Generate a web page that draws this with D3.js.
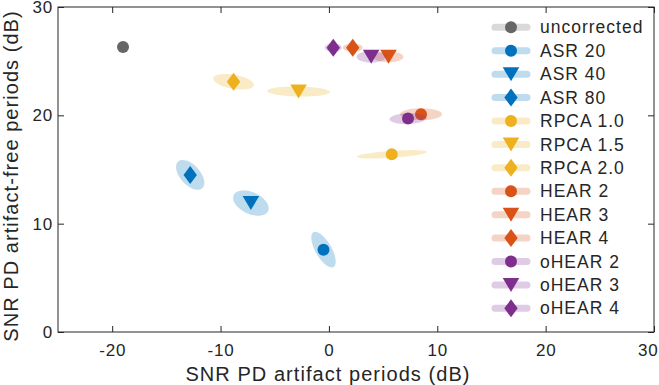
<!DOCTYPE html>
<html>
<head>
<meta charset="utf-8">
<script src="https://cdn.jsdelivr.net/npm/d3@7"></script>
<style>
  body { margin: 0; background: #fff; }
  text { font-family: "Liberation Sans", Arial, Helvetica, sans-serif; fill: #262626; }
  .axis path, .axis line { stroke: #262626; }
  .axis text { font-size: 17px; letter-spacing: 0.8px; }
</style>
</head>
<body>
<script>
// series, in legend order
var names   = ["uncorrected", "ASR 20", "ASR 40", "ASR 80", "RPCA 1.0", "RPCA 1.5", "RPCA 2.0",
               "HEAR 2", "HEAR 3", "HEAR 4", "oHEAR 2", "oHEAR 3", "oHEAR 4"];
var groups  = ["none", "ASR", "ASR", "ASR", "RPCA", "RPCA", "RPCA",
               "HEAR", "HEAR", "HEAR", "oHEAR", "oHEAR", "oHEAR"];
var shapes  = ["circle", "circle", "tri", "diamond", "circle", "tri", "diamond",
               "circle", "tri", "diamond", "circle", "tri", "diamond"];
// mean SNR (dB) in artifact periods and artifact-free periods
var snrArt  = [-19.0, -0.5, -7.2, -12.8, 5.8, -2.8, -8.8, 8.5, 5.5, 2.2, 7.3, 3.9, 0.4];
var snrFree = [26.3, 7.6, 11.9, 14.5, 16.4, 22.2, 23.1, 20.1, 25.4, 26.25, 19.7, 25.4, 26.25];
// spread ellipse: semi axes (dB) and tilt (deg)
var ellA    = [0, 1.85, 1.75, 1.66, 3.23, 2.9, 1.9, 1.94, 1.38, 0.92, 1.7, 1.34, 0.78];
var ellB    = [0, 0.74, 1.0, 0.92, 0.32, 0.46, 0.65, 0.55, 0.5, 0.37, 0.5, 0.53, 0.4];
var ellRot  = [0, -60, -25, -48, 4, -1, -10, 0, 0, 0, 2, 0, 0];

var xTicks = [-20, -10, 0, 10, 20, 30],
    yTicks = [0, 10, 20, 30];

var colors = {none: "#666666", ASR: "#0072BD", RPCA: "#EDB120", HEAR: "#D95319", oHEAR: "#7E2F8E"};

var W = 659, H = 385;
var margin = {top: 7, right: 5, bottom: 53, left: 58};

var svg = d3.select("body").append("svg")
    .attr("width", W)
    .attr("height", H);

var x = d3.scaleLinear().domain([-25, 30]).range([margin.left, W - margin.right]),
    y = d3.scaleLinear().domain([0, 30]).range([H - margin.bottom, margin.top]);

// marker paths, centred on their bounding box
function marker(shape) {
  if (shape == "circle") return d3.symbol(d3.symbolCircle, Math.PI * 36)();
  if (shape == "tri") return "M-8.3,-7L8.3,-7L0,7Z";
  return "M0,-9L6.7,0L0,9L-6.7,0Z";
}

// ellipse outline in data space
function ellipsePath(i) {
  var t = ellRot[i] * Math.PI / 180, pts = [];
  for (var k = 0; k < 72; k++) {
    var p = k / 72 * 2 * Math.PI;
    var ex = ellA[i] * Math.cos(p), ey = ellB[i] * Math.sin(p);
    pts.push([x(snrArt[i] + ex * Math.cos(t) - ey * Math.sin(t)),
              y(snrFree[i] + ex * Math.sin(t) + ey * Math.cos(t))]);
  }
  return d3.line().curve(d3.curveLinearClosed)(pts);
}

function noDomain(g) { g.select(".domain").remove(); }

// axes with inward ticks on all sides
var xAx = svg.append("g").attr("class", "axis")
   .attr("transform", "translate(0," + y(0) + ")")
   .call(d3.axisBottom(x).tickValues(xTicks).tickSize(-6).tickSizeOuter(0).tickPadding(11.5)
           .tickFormat(function(d) { return String(d); }))
   .call(noDomain);

// keep the last label inside the picture
xAx.selectAll(".tick text").filter(function(d) { return d == 30; })
   .attr("text-anchor", "end").attr("x", W - 1 - x(30));

svg.append("g").attr("class", "axis")
   .attr("transform", "translate(" + x(-25) + ",0)")
   .call(d3.axisLeft(y).tickValues(yTicks).tickSize(-6).tickSizeOuter(0).tickPadding(5))
   .call(noDomain);

svg.append("g").attr("class", "axis")
   .attr("transform", "translate(0," + y(30) + ")")
   .call(d3.axisTop(x).tickValues(xTicks).tickSize(-6).tickSizeOuter(0).tickFormat(""))
   .call(noDomain);

svg.append("g").attr("class", "axis")
   .attr("transform", "translate(" + x(30) + ",0)")
   .call(d3.axisRight(y).tickValues(yTicks).tickSize(-6).tickSizeOuter(0).tickFormat(""))
   .call(noDomain);

svg.append("rect")
   .attr("x", x(-25)).attr("y", y(30))
   .attr("width", x(30) - x(-25)).attr("height", y(0) - y(30))
   .attr("fill", "none").attr("stroke", "#262626").attr("stroke-width", 1);

// ellipse then marker, series by series
names.forEach(function(n, i) {
  var c = colors[groups[i]];
  if (ellA[i] > 0) {
    svg.append("path").attr("d", ellipsePath(i))
       .attr("fill", c).attr("fill-opacity", 0.25);
  }
  svg.append("path").attr("d", marker(shapes[i]))
     .attr("transform", "translate(" + x(snrArt[i]) + "," + y(snrFree[i]) + ")")
     .attr("fill", c);
});

// legend
var leg = svg.append("g").attr("transform", "translate(511,27.3)");
names.forEach(function(n, i) {
  var c = colors[groups[i]], g = leg.append("g").attr("transform", "translate(0," + i * 23.42 + ")");
  g.append("line").attr("x1", -16).attr("x2", 16)
   .attr("stroke", c).attr("stroke-opacity", 0.25)
   .attr("stroke-width", 7).attr("stroke-linecap", "round");
  g.append("path").attr("d", marker(shapes[i])).attr("fill", c);
  g.append("text").attr("x", 29).attr("dy", "0.35em")
   .style("font-size", "17.5px").style("letter-spacing", "1px").text(n);
});

// axis labels
svg.append("text")
   .attr("x", 328).attr("y", 381)
   .attr("text-anchor", "middle")
   .style("font-size", "20px").style("letter-spacing", "1.05px")
   .text("SNR PD artifact periods (dB)");

svg.append("text")
   .attr("transform", "translate(17.5,176)rotate(-90)")
   .attr("text-anchor", "middle")
   .style("font-size", "20px").style("letter-spacing", "1.05px")
   .text("SNR PD artifact-free periods (dB)");
</script>
</body>
</html>
